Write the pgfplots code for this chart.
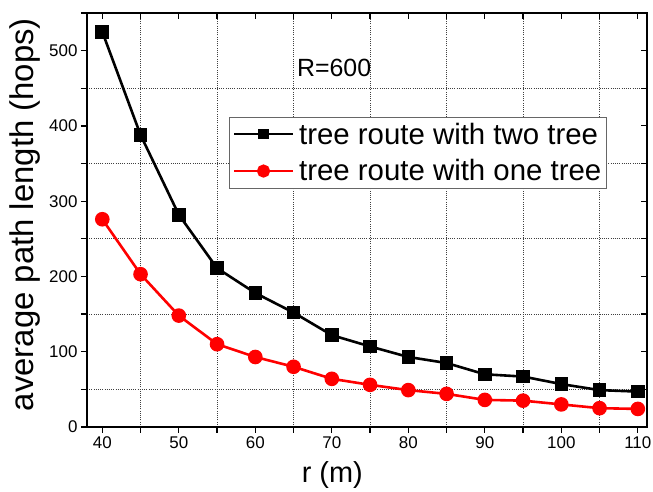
\documentclass[border=0pt]{standalone}
\usepackage{fontspec}
\setmainfont{Liberation Sans}
\usepackage{pgfplots}
\pgfplotsset{compat=1.18}
\begin{document}
\begin{tikzpicture}
\begin{axis}[
  name=main,
  scale only axis, width=560bp, height=414bp,
  xmin=38, xmax=111.2, ymin=0, ymax=550,
  xtick={40,50,...,110}, ytick={0,100,...,500},
  minor xtick={45,55,...,105}, minor ytick={50,150,...,550},
  xtick pos=bottom, ytick pos=left,
  tick align=outside,
  major tick length=6bp, minor tick length=6bp,
  tick style={black, line width=1.2bp},
  axis line style={line width=1.5bp},
  grid=minor,
  minor grid style={black!75, line width=0.8bp, dash pattern=on 1bp off 1.2bp},
  /pgf/number format/assume math mode=true,
  ticklabel style={font=\fontsize{17}{20}\selectfont},
  xlabel={r (m)},
  ylabel={average path length (hops)},
  xlabel style={font=\fontsize{29}{34}\selectfont, at={(axis description cs:0.438,-0.135)}, anchor=base},
  ylabel style={font=\fontsize{33}{38}\selectfont, at={(axis description cs:-0.0964,0.513)}, anchor=base},
  legend style={at={(0.2536,0.7488)}, anchor=north west, draw=black!60, line width=0.8bp,
    font=\fontsize{29.5}{34}\selectfont, inner sep=3.5bp, row sep=10bp, column sep=3bp},
  legend cell align=left,
  legend image code/.code={\draw[mark repeat=2,mark phase=2,#1] plot coordinates {(0bp,0bp) (29.5bp,0bp) (59bp,0bp)};},
]
\addplot[black, line width=2.6bp, mark=square*, mark size=5.5bp, mark options={solid}, forget plot]
coordinates {(40,525) (45,388) (50,282) (55,211) (60,178) (65,152) (70,122) (75,107) (80,93) (85,85) (90,70) (95,67) (100,57) (105,49) (110,47)};
\addplot[red, line width=2.6bp, mark=*, mark size=6bp, mark options={solid}, forget plot]
coordinates {(40,276) (45,203) (50,148) (55,110) (60,93) (65,80) (70,64) (75,56) (80,49) (85,44) (90,36) (95,35) (100,30) (105,25) (110,24)};
\addlegendimage{black, line width=2.2bp, mark=square*, mark size=4bp}
\addlegendentry{tree route with two tree}
\addlegendimage{red, line width=2.2bp, mark=*, mark size=5.5bp}
\addlegendentry{tree route with one tree}
\node[anchor=base west, font=\fontsize{25}{30}\selectfont] at (axis cs:65.0,466) {R=600};
\end{axis}
\begin{axis}[
  scale only axis, width=560bp, height=414bp,
  xmin=38, xmax=111.2, ymin=0, ymax=550,
  xtick={40,50,...,110}, ytick={0,100,...,500},
  minor xtick={45,55,...,105}, minor ytick={50,150,...,550},
  xtick pos=top, ytick pos=right,
  tick align=inside,
  major tick length=6bp, minor tick length=6bp,
  tick style={black, line width=1.2bp},
  axis line style={line width=1.5bp},
  xticklabels={}, yticklabels={},
]
\end{axis}
\pgfresetboundingbox
\path ([xshift=-87bp,yshift=-65bp]main.south west) rectangle ([xshift=6bp,yshift=13bp]main.north east);
\end{tikzpicture}
\end{document}
